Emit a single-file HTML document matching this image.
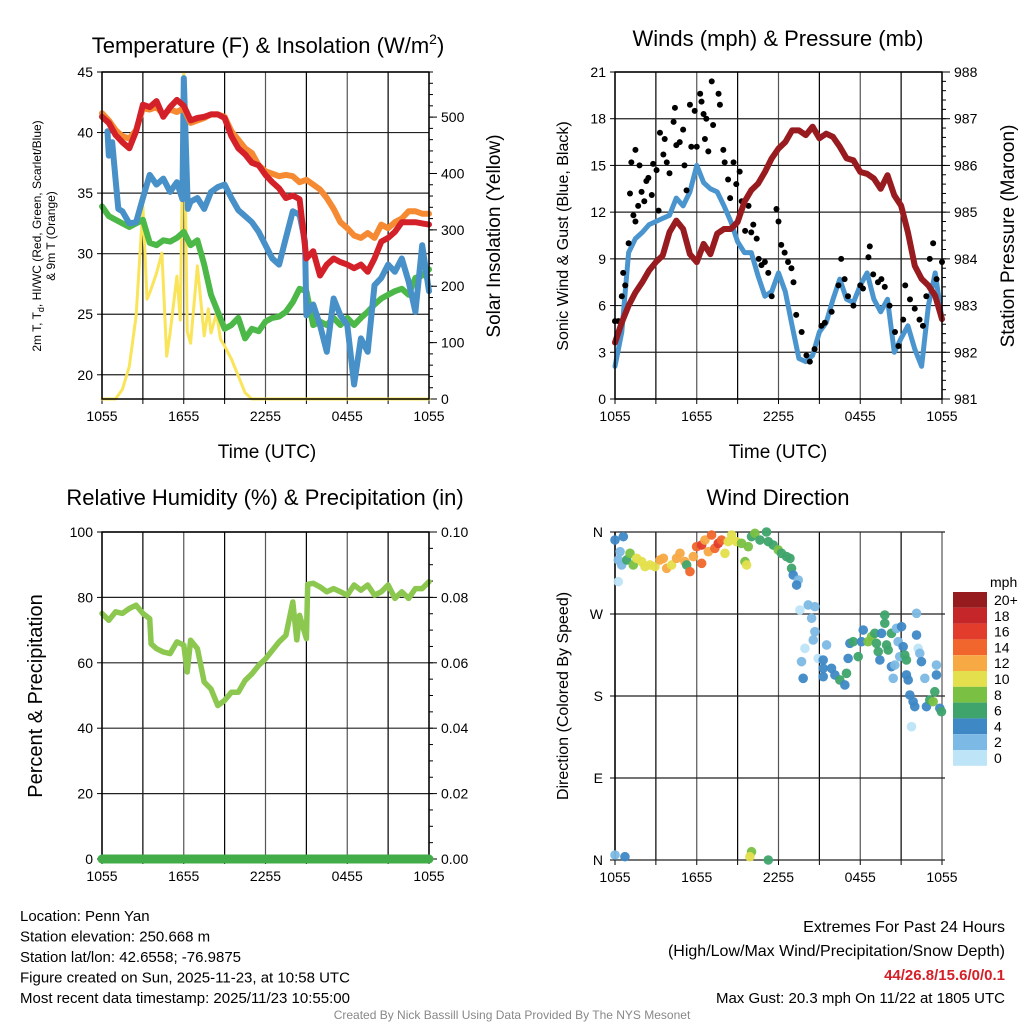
<!DOCTYPE html>
<html><head><meta charset="utf-8">
<style>
html,body{margin:0;padding:0;background:#fff;}
svg{display:block;font-family:"Liberation Sans",sans-serif;}
</style></head>
<body>
<svg id="c" width="1024" height="1024" viewBox="0 0 1024 1024" xmlns="http://www.w3.org/2000/svg"></svg>
<script>
// ---------- DATA ----------
const hoursHalf = Array.from({length:49},(_, i)=>i*0.5);
const xTickLabels = ["1055","1655","2255","0455","1055"];
const tempTicks = [20,25,30,35,40,45];
const solarTicks = [0,100,200,300,400,500];
const windTicks = [0,3,6,9,12,15,18,21];
const presTicks = [981,982,983,984,985,986,987,988];
const rhTicks = [0,20,40,60,80,100];
const precipTicks = ["0.00","0.02","0.04","0.06","0.08","0.10"];
const dirTicks = ["N","E","S","W","N"];
const speedBins = ["0","2","4","6","8","10","12","14","16","18","20+"];
const speedColors = ["#bde4f7","#7cb9e4","#3e88c5","#3fa46b","#7ac143","#e4df4c","#f7a944","#f0662c","#e23c2c","#c4262a","#961b1e"];

const tempRed = [41.3,40.8,39.8,39.2,38.7,40.1,42.3,42.1,42.6,41.3,42.1,42.7,42.2,41,41.2,41.3,41.5,41.5,41.2,39.7,38.7,38.2,37.5,37.3,36.5,35.9,35.4,34.6,34.8,34.5,29.6,30.2,28.2,29.1,29.6,29.3,29.1,28.8,29.1,28.5,29.6,31,31.3,31.8,32.6,32.6,32.6,32.5,32.4];
const tempOrange = [41.6,41,40.2,39.7,39.5,40.2,42,41.9,42.1,41.5,41.9,41.7,42,40.8,41,41.2,41.5,41.5,41.3,40.1,39.4,38.7,38.3,37.3,36.8,36.6,36.4,36.5,36.4,35.9,36.1,35.7,35.3,34.6,33.7,32.6,32.1,31.5,31.3,31.7,31.3,32.4,32.1,32.6,32.9,33.5,33.5,33.3,33.3];
const tempBlueHours = [0.4,0.5,0.75,1,1.2,1.5,2,2.5,3,3.5,4,4.5,5,5.5,5.9,6,6.3,6.5,7,7.5,8,8.5,9,9.5,10,10.5,11,11.5,12,12.5,13,13.5,14,14.5,14.9,15,15.5,16,16.5,17,17.5,18,18.5,19,19.5,20,20.5,21,21.5,22,22.5,23,23.5,24];
const tempBlue = [40.1,38.1,39.2,36.1,33.7,33.5,32.5,32.6,34.6,36.5,35.7,36.2,35.1,35.9,34.5,44.5,33.7,34.3,34.6,33.7,35.1,35.5,35.7,34.6,33.6,33.1,32.6,31.8,30.7,29.6,29.1,31.3,33.5,33.2,31,24.9,25.8,24.1,21.9,26.3,24.9,24.1,19.2,23,21.9,27.4,28,29.1,28.5,29.6,27.7,25.2,30.7,26.9];
const tempGreen = [33.9,33.1,32.8,32.5,32.2,32.5,32.8,30.9,30.7,31.1,31,31.3,31.8,30.7,31.1,29.1,26.6,25.2,23.8,24.1,24.7,23,23.8,23.6,24.4,24.7,24.8,25.2,26,27.1,26.9,24.1,24.4,24.1,24.7,24.1,24.7,24.1,24.7,25.2,25.8,26.3,26.6,26.9,27.1,26.6,28,28.2,28.7];
const solarHours = [0,1,1.5,2,2.5,3,3.3,3.5,4,4.4,4.75,5,5.5,5.75,6,6.25,6.5,7,7.5,7.8,8,8.4,8.7,9,9.5,10,10.5,11,24];
const solar = [0,0,17,58,147,342,177,188,223,259,76,117,218,140,578,120,99,236,112,160,117,152,106,94,71,41,11,0,0];

const pressure = [982.21,982.64,983.0,983.28,983.5,983.75,983.93,984.07,984.57,984.82,984.64,984.1,983.93,984.32,984.1,984.54,984.64,984.64,984.79,985.22,985.47,985.61,985.86,986.15,986.36,986.5,986.75,986.75,986.65,986.83,986.58,986.68,986.61,986.4,986.15,986.11,985.86,985.82,985.72,985.5,985.79,985.36,985.14,984.57,983.85,983.57,983.43,983.21,982.71];
const windSpeed = [2.1,4.3,9.4,10.3,10.7,11.2,11.4,11.6,11.8,12.9,12.4,13.3,15,13.9,13.5,13.3,12.4,11.4,10.1,9.4,9.4,7.9,6.6,6.9,8.1,6.9,4.7,2.6,2.4,2.8,4.3,4.9,6.4,7.7,6.4,6.2,7.3,8.1,6.4,5.6,6.4,3,3.9,4.7,3.2,2.1,6,8.1,5.1];
const gustHours = [0,0.25,0.5,0.6,0.75,1,1.1,1.2,1.35,1.5,1.5,1.7,1.8,1.95,2.15,2.3,2.45,2.7,2.8,3.05,3.2,3.3,3.55,3.65,3.8,4,4.3,4.4,4.5,4.75,5,5.1,5.25,5.5,5.6,5.85,6,6.25,6.35,6.5,6.6,6.7,6.85,7.1,7.2,7.6,7.7,7.95,8.05,8.3,8.45,8.7,8.9,9.15,9.3,9.55,9.8,10,10.15,10.4,10.55,10.75,11,11.25,11.5,11.85,12,12.2,12.45,12.7,12.95,13.1,13.3,13.7,14.05,14.3,14.65,15.15,15.4,15.9,16.4,16.6,16.85,17.1,17.5,18,18.2,18.6,18.7,18.95,19.3,19.55,19.8,20.15,20.55,20.8,21.15,21.3,21.65,22,22.35,22.6,22.85,23.1,23.35,23.6,24];
const gusts = [5,5,6.6,8.1,7.3,10,13.2,15.2,11.8,16,11.4,12.4,15,13.3,12.7,14,14.2,13.1,15.1,14.7,12.1,17.1,15.7,16.7,15.2,14.5,17.8,18.7,16.3,16.5,17.3,15,13.4,18.9,16.2,18.5,16.2,19.6,19.1,18.3,16.7,18,15.9,20.4,17.6,19.6,18.9,16,15.2,14.1,12.9,15.2,13.8,14.6,12.7,10.8,12.4,10.7,11.2,10.3,9,8.6,8.8,8.1,6.6,12.2,11.4,9.9,9.4,8.8,8.4,7.5,5.4,4.3,2.8,2.4,3.2,4.7,4.9,5.6,7.3,9,7.7,6.6,6,7.3,7.1,9.1,9.8,8,7.5,7.7,7.2,6,4.3,3.4,5.1,7.3,6.4,5.8,5.1,4.7,6.6,9,10,7.7,8.8];

const rhHours = [0,0.5,1,1.5,2,2.5,3,3.5,3.6,4,4.5,5,5.5,6,6.25,6.5,7,7.5,8,8.5,9,9.5,10,10.5,11,11.5,12,12.5,13,13.5,14,14.3,14.5,15,15.1,15.5,16,16.5,17,17.5,18,18.5,19,19.5,20,20.5,21,21.5,22,22.5,23,23.5,24];
const rh = [75.1,73,75.6,75.1,76.6,77.6,75.1,73.5,65.8,64.3,63.3,62.8,66.4,65.4,57.2,66.9,64.3,54.1,52,46.9,48.5,51,51,54.6,56.6,59.2,61.2,63.8,66.4,68.4,78.6,67,74.5,67.4,84,84.3,83.2,81.7,82.7,81.7,80.7,83.8,82.2,83.8,80.7,81.7,83.8,79.7,81.7,79.7,82.7,82.7,84.8];
const precip = [0,0];
const precipHours = [0,24];

const dirHours = [0,0.61,0.37,0.24,0.49,0.24,0.86,1.1,1.34,1.59,1.96,2.2,2.57,2.93,3.3,3.55,3.79,4.16,4.52,4.77,5.13,5.26,5.5,5.75,5.99,6.36,6.36,6.6,6.85,7.09,7.33,7.58,7.82,8.07,8.31,8.56,8.92,9.29,9.54,9.66,9.78,10.02,10.27,10.64,11.12,11.25,11.61,11.98,12.22,12.59,12.84,12.96,13.08,13.45,13.33,13.57,14.18,14.67,14.43,14.67,14.55,13.94,13.69,13.81,14.91,15.28,15.53,15.28,15.28,15.89,16.14,16.5,16.87,16.99,17.11,17.24,17.48,17.85,18.09,18.22,18.58,18.83,19.07,19.19,19.32,19.44,19.56,19.8,19.8,19.93,20.05,20.29,20.29,20.42,20.54,20.66,20.78,20.9,21.03,21.15,21.27,21.39,21.39,21.52,21.64,21.76,21.88,22.0,22.13,22.13,22.25,22.37,22.49,22.74,22.86,23.1,23.35,23.47,23.59,23.59,23.84,23.96,0,0.73,10.02,9.9,11.25];
const dirDeg = [351.2,354.9,338.4,329.3,323.8,305.5,329.3,336.6,323.8,331.1,327.5,322,323.8,322,329.3,331.1,320.1,323.8,331.1,336.6,327.5,323.8,316.5,333,343.9,345.7,325.6,351.2,338.4,356.7,342.1,347.6,351.2,336.6,349.4,356.7,349.4,347.6,327.5,323.8,343.9,354.9,358.6,351.2,360,349.4,345.7,340.3,336.6,333,331.1,320.1,312.8,307.3,301.8,274.4,279.9,278.1,265.3,250.6,241.5,232.3,217.7,199.4,221.3,219.5,236,210.4,201.2,210.4,203.1,197.6,192.1,204.9,221.3,237.8,239.6,223.2,239.6,252.4,239.6,245.1,248.8,237.8,228.7,219.5,248.8,268.9,259.8,236,230.5,248.8,212.2,199.4,214,254.3,239.6,223.2,256.1,234.2,225,219.5,203.1,197.6,181.1,146.3,173.8,168.3,246.9,270.7,232.3,226.8,217.7,199.4,168.3,175.6,173.8,184.7,214,203.1,166.5,162.8,5.5,3.6,9.1,3.6,0];
const dirSpeedBin = [2,2,1,1,1,0,3,4,4,5,5,5,5,5,6,6,6,5,6,6,6,3,7,6,7,8,7,6,6,7,7,8,7,5,5,5,5,4,4,5,4,3,4,3,3,3,3,4,3,3,3,3,2,1,2,0,1,1,1,1,1,0,1,2,0,2,1,2,2,2,2,3,2,3,2,2,3,3,2,2,4,4,3,3,3,2,2,3,3,3,3,3,2,1,1,1,1,1,2,2,3,3,2,2,2,0,2,2,2,1,0,1,2,1,2,3,4,3,1,2,2,3,1,2,4,5,3];

// ---------- RENDER ----------
const NS="http://www.w3.org/2000/svg";
const svg=document.getElementById('c');
function el(tag,attrs,parent,text){const e=document.createElementNS(NS,tag);for(const k in attrs)e.setAttribute(k,attrs[k]);if(text!==undefined)e.textContent=text;(parent||svg).appendChild(e);return e;}

function makePanel(name,x0,y0,w,h){
  const g=el('g',{});
  
  
  const xs=t=>x0+t/24*w;
  for(let i=0;i<=8;i++){
    const x=xs(i*3);
    const l=el('line',{x1:x,y1:y0,x2:x,y2:y0+h,stroke:(i%2? '#000':'#555'),'stroke-width':1.2},g);
    
    
    el('line',{x1:x,y1:y0+h,x2:x,y2:y0+h+5,stroke:'#000','stroke-width':1},g);
  }
  xTickLabels.forEach((lab,i)=>{
    const t=el('text',{x:xs(i*6),y:y0+h+22,'font-size':14,'text-anchor':'middle',fill:'#000'},g,lab);
    
    
  });
  return {g,xs,x0,y0,w,h};
}
function border(p){el('rect',{x:p.x0,y:p.y0,width:p.w,height:p.h,fill:'none',stroke:'#000','stroke-width':1.5},p.g);}
function hgrid(p,ys,vals,labels){
  vals.forEach((v,i)=>{
    const y=ys(v);
    const l=el('line',{x1:p.x0,y1:y,x2:p.x0+p.w,y2:y,stroke:'#222','stroke-width':1.2},p.g);
    
    
    el('line',{x1:p.x0-5,y1:y,x2:p.x0,y2:y,stroke:'#000'},p.g);
    const t=el('text',{x:p.x0-9,y:y+5,'font-size':14,'text-anchor':'end'},p.g,labels[i]);
    
    
  });
}
function rightAxis(p,ys,vals,labels,minorStep,lo,hi){
  for(let v=lo;v<=hi+1e-9;v+=minorStep){const y=ys(v);el('line',{x1:p.x0+p.w,y1:y,x2:p.x0+p.w+4,y2:y,stroke:'#000'},p.g);}
  vals.forEach((v,i)=>{
    const y=ys(v);
    el('line',{x1:p.x0+p.w,y1:y,x2:p.x0+p.w+8,y2:y,stroke:'#000'},p.g);
    const t=el('text',{x:p.x0+p.w+12,y:y+5,'font-size':14},p.g,labels[i]);
    
    
  });
}
function pathFrom(xsArr,ysArr,xs,ys){return xsArr.map((t,i)=>(i?'L':'M')+xs(t).toFixed(1)+','+ys(ysArr[i]).toFixed(1)).join(' ');}
function line(p,name,d,color,wd){const e=el('path',{d:d,fill:'none',stroke:color,'stroke-width':wd,'stroke-linejoin':'round','stroke-linecap':'round'},p.g);return e;}
function title(txt,x,y,name,size){const t=el('text',{x:x,y:y,'font-size':size||22,'text-anchor':'middle'},svg,txt);return t;}
function vtext(txt,x,y,size,name){const t=el('text',{x:x,y:y,'font-size':size,'text-anchor':'middle',transform:`rotate(-90 ${x} ${y})`},svg,txt);return t;}

// Panel 1: temperature
{
  const p=makePanel('temperature-panel',102,72,327,327);
  const ys=v=>p.y0+(45-v)/27*p.h;
  const ysS=v=>p.y0+p.h-v/580*p.h;
  hgrid(p,ys,tempTicks,tempTicks.map(String));
  rightAxis(p,ysS,solarTicks,solarTicks.map(String),20,0,580);
  line(p,'solar-insolation-line',pathFrom(solarHours,solar,p.xs,ysS),'#f9e45a',3);
  line(p,'dewpoint-line',pathFrom(hoursHalf,tempGreen,p.xs,ys),'#4cb848',6);
  line(p,'heat-index-wind-chill-line',pathFrom(tempBlueHours,tempBlue,p.xs,ys),'#4890c8',6);
  line(p,'9m-temperature-line',pathFrom(hoursHalf,tempOrange,p.xs,ys),'#f58a32',6);
  line(p,'2m-temperature-line',pathFrom(hoursHalf,tempRed,p.xs,ys),'#d42028',6);
  border(p);
  const tt=el('text',{x:268,y:53,'font-size':22,'text-anchor':'middle'},svg);
  
  
  tt.innerHTML='Temperature (F) &amp; Insolation (W/m<tspan dy="-9" font-size="14">2</tspan><tspan dy="9">)</tspan>';
  title('Time (UTC)',267,458,'temperature-x-axis-title',19);
  const lt=el('text',{x:0,y:0,'font-size':12,'text-anchor':'middle',transform:'translate(41 236) rotate(-90)'},svg);
  
  
  lt.innerHTML='2m T, T<tspan dy="3" font-size="9">d</tspan><tspan dy="-3">, HI/WC (Red, Green, Scarlet/Blue)</tspan>';
  const lt2=el('text',{x:0,y:0,'font-size':12,'text-anchor':'middle',transform:'translate(55 236) rotate(-90)'},svg,'& 9m T (Orange)');
  
  
  vtext('Solar Insolation (Yellow)',500,236,19,'solar-y-axis-title');
}
// Panel 2: winds
{
  const p=makePanel('winds-panel',615,72,327,327);
  const ys=v=>p.y0+(21-v)/21*p.h;
  const ysP=v=>p.y0+(988-v)/7*p.h;
  hgrid(p,ys,windTicks,windTicks.map(String));
  rightAxis(p,ysP,presTicks,presTicks.map(String),0.2,981,988);
  line(p,'sonic-wind-line',pathFrom(hoursHalf,windSpeed,p.xs,ys),'#4b95cf',5);
  gustHours.forEach((t,i)=>{
    const c=el('circle',{cx:p.xs(t),cy:ys(gusts[i]),r:3,fill:'#000'},p.g);
    
    
  });
  line(p,'pressure-line',pathFrom(hoursHalf,pressure,p.xs,ysP),'#981c1f',6);
  border(p);
  title('Winds (mph) & Pressure (mb)',778,46,'winds-title',22);
  title('Time (UTC)',778,458,'winds-x-axis-title',19);
  vtext('Sonic Wind & Gust (Blue, Black)',568,236,16,'wind-y-axis-title');
  vtext('Station Pressure (Maroon)',1014,236,19,'pressure-y-axis-title');
}
// Panel 3: RH
{
  const p=makePanel('humidity-panel',102,532,327,327);
  const ys=v=>p.y0+(100-v)/100*p.h;
  const ysR=v=>p.y0+(0.1-v)/0.1*p.h;
  hgrid(p,ys,rhTicks,rhTicks.map(String));
  rightAxis(p,ysR,precipTicks.map(Number),precipTicks,0.005,0,0.1);
  line(p,'relative-humidity-line',pathFrom(rhHours,rh,p.xs,ys),'#8cc850',5.5);
  border(p);
  line(p,'precipitation-line',pathFrom(precipHours,precip,p.xs,ysR),'#41ac48',9);
  title('Relative Humidity (%) & Precipitation (in)',265,505,'humidity-title',22);
  vtext('Percent & Precipitation',42,696,20,'humidity-y-axis-title');
}
// Panel 4: wind direction
{
  const p=makePanel('wind-direction-panel',615,532,327,328);
  const ys=d=>p.y0+(360-Math.min(d,360))/360*p.h;
  [0,90,180,270,360].forEach((d,i)=>{
    const y=ys(d);
    el('line',{x1:p.x0,y1:y,x2:p.x0+p.w+3,y2:y,stroke:'#222','stroke-width':1.2},p.g);
    el('line',{x1:p.x0-5,y1:y,x2:p.x0,y2:y,stroke:'#000'},p.g);
    const t=el('text',{x:p.x0-12,y:y+5,'font-size':14,'text-anchor':'end'},p.g,dirTicks[i]);
    
    
  });
  el('line',{x1:p.x0,y1:p.y0,x2:p.x0,y2:p.y0+p.h,stroke:'#000','stroke-width':1.5},p.g);
  dirHours.forEach((t,i)=>{
    const c=el('circle',{cx:p.xs(t),cy:ys(dirDeg[i]),r:4.8,fill:speedColors[dirSpeedBin[i]],opacity:0.95},p.g);
    
    
  });
  title('Wind Direction',778,505,'wind-direction-title',22);
  vtext('Direction (Colored By Speed)',568,696,16,'direction-y-axis-title');
  const cb=el('g',{});
  
  
  const top=592,bh=15.8;
  el('text',{x:990,y:587,'font-size':14},cb,'mph');
  for(let i=0;i<speedBins.length;i++){
    const k=speedBins.length-1-i;
    const r=el('rect',{x:953,y:top+i*bh,width:34,height:bh,fill:speedColors[k]},cb);
    
    
    const t=el('text',{x:994,y:top+i*bh+13,'font-size':14},cb,speedBins[k]);
    
    
  }
}
// Footer
{
  const info=["Location: Penn Yan","Station elevation: 250.668 m","Station lat/lon: 42.6558; -76.9875","Figure created on Sun, 2025-11-23, at 10:58 UTC","Most recent data timestamp: 2025/11/23 10:55:00"];
  info.forEach((s,i)=>{const t=el('text',{x:20,y:921+i*20.5,'font-size':15},svg,s);});
  const r=[["Extremes For Past 24 Hours",932,'#000','normal'],["(High/Low/Max Wind/Precipitation/Snow Depth)",956,'#000','normal'],["44/26.8/15.6/0/0.1",980,'#d42028','bold'],["Max Gust: 20.3 mph On 11/22 at 1805 UTC",1003,'#000','normal']];
  r.forEach(a=>{const t=el('text',{x:1005,y:a[1],'font-size':a[2]==='#000'&&a[1]<960?16:15,'text-anchor':'end',fill:a[2],'font-weight':a[3]},svg,a[0]);});
  const c=el('text',{x:512,y:1019,'font-size':12,'text-anchor':'middle',fill:'#888'},svg,'Created By Nick Bassill Using Data Provided By The NYS Mesonet');
  
  
}
</script>
</body></html>
